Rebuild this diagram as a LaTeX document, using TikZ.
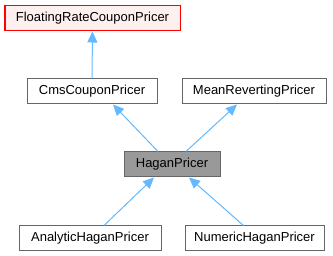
\documentclass[tikz,border=0pt]{standalone}
\usepackage{fontspec}
\setmainfont{Liberation Sans}
\usetikzlibrary{arrows.meta}
\definecolor{edgeblue}{HTML}{63B8FF}
\definecolor{boxgray}{HTML}{666666}
\tikzset{cls/.style={draw=boxgray, fill=white, line width=1pt, inner sep=0pt,
                     minimum height=25pt, font=\fontsize{13}{15}\selectfont},
         inh/.style={draw=edgeblue, line width=1pt,
                     -{Triangle[length=11pt,width=10pt,fill=edgeblue]}}}

\begin{document}
\begin{tikzpicture}[x=1pt,y=-1pt]
\useasboundingbox (0,0) rectangle (333,256);

% classes
\node[cls, draw=red, fill=red!6, minimum width=175pt] (frcp) at (92.5,18.5) {FloatingRateCouponPricer};
\node[cls, minimum width=130pt] (cms) at (92,91.5) {CmsCouponPricer};
\node[cls, minimum width=144pt] (mrp) at (254,91.5) {MeanRevertingPricer};
\node[cls, fill=black!40, minimum width=96pt] (hagan) at (172,164.5) {HaganPricer};
\node[cls, minimum width=142pt] (ahp) at (90,238.5) {AnalyticHaganPricer};
\node[cls, minimum width=139pt] (nhp) at (254.5,238.5) {NumericHaganPricer};

% inheritance
\draw[inh] (cms) -- (frcp);
\draw[inh] ([xshift=-14pt]hagan.north) -- ([xshift=21pt]cms.south);
\draw[inh] ([xshift=14pt]hagan.north) -- ([xshift=-17pt]mrp.south);
\draw[inh] ([xshift=14pt]ahp.north) -- ([xshift=-18pt]hagan.south);
\draw[inh] ([xshift=-11pt]nhp.north) -- ([xshift=17pt]hagan.south);
\end{tikzpicture}
\end{document}
